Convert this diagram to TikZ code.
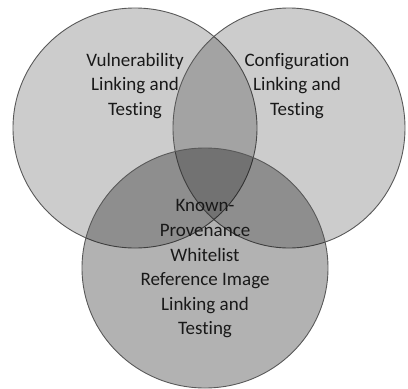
\documentclass[tikz,border=0pt]{standalone}
\usepackage{fontspec}
\setmainfont{Carlito}[Ligatures=NoCommon]
\begin{document}
\begin{tikzpicture}[x=1pt,y=-1pt,
    set/.style={draw=black!65,line width=0.9pt,fill=black,fill opacity=0.2,text opacity=1},
    lbl/.style={align=center,font=\fontsize{19}{24.6}\selectfont,text=black!90}]
      \useasboundingbox (0,0) rectangle (408,389);
      \draw[set] (135,128) coordinate (V) ellipse [x radius=122,y radius=120];
      \draw[set] (289,128) coordinate (C) ellipse [x radius=116,y radius=120];
      \draw[set,fill opacity=0.3] (205,268) coordinate (K) ellipse [x radius=123,y radius=120];
      \node[lbl] (vul) at (135,86) {Vulnerability\\Linking and\\Testing};
      \node[lbl] (con) at (297,86) {Configuration\\Linking and\\Testing};
      \node[lbl] (kno) at (205,269) {Known-\\Provenance\\Whitelist\\Reference Image\\Linking and\\Testing};
    \end{tikzpicture}
\end{document}
